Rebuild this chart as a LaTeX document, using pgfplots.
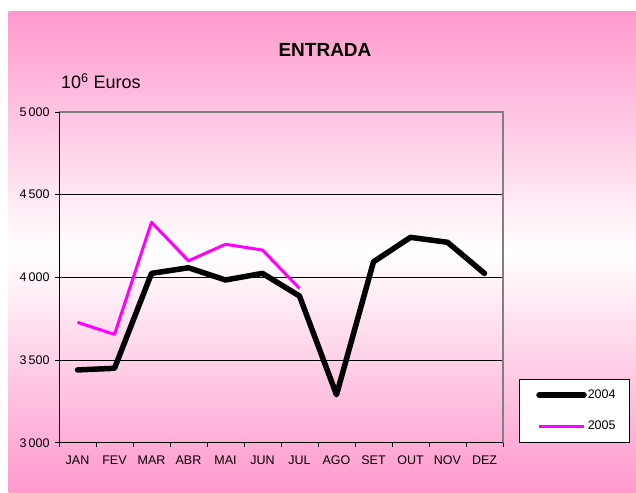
\documentclass[border=0pt]{standalone}
\usepackage{pgfplots}
\pgfplotsset{compat=1.18}
\usepackage{fontspec}
\setmainfont{Liberation Sans}
\definecolor{bgpink}{RGB}{255,153,204}
\definecolor{mag}{RGB}{255,0,255}
\begin{document}
\begin{tikzpicture}
\useasboundingbox (0pt,0pt) rectangle (636pt,492pt);
\fill[white] (0pt,0pt) rectangle (636pt,492pt);
\shade[top color=bgpink, bottom color=bgpink, middle color=white] (8.5pt,0pt) rectangle (636pt,480pt);
\node[font=\fontsize{19}{22}\selectfont\bfseries] at (325pt,442pt) {ENTRADA};
\node[font=\fontsize{18}{21}\selectfont, anchor=base west, inner sep=0pt] at (61pt,403pt) {10\textsuperscript{6} Euros};
\begin{axis}[
  at={(59pt,49.3pt)}, anchor=south west,
  scale only axis, width=444pt, height=330.7pt,
  xmin=0.5, xmax=12.5, ymin=3000, ymax=5000,
  xtick={0.5,1.5,...,12.5},
  xticklabels={JAN,FEV,MAR,ABR,MAI,JUN,JUL,AGO,SET,OUT,NOV,DEZ},
  x tick label as interval,
  ytick={3000,3500,...,5000},
  ymajorgrids, grid style={black, line width=0.9pt},
  tick align=outside, xtick pos=bottom, ytick pos=left,
  major tick length=4pt,
  tick style={black, line width=0.8pt},
  axis line style={draw=none},
  ticklabel style={font=\fontsize{12.5}{14}\selectfont},
  xticklabel style={yshift=-6pt},
  yticklabel style={xshift=-2pt},
  /pgf/number format/assume math mode=true,
  /pgf/number format/1000 sep={\,},
  clip=false,
  legend image code/.code={\path (0pt,0pt); \draw[#1] (4pt,0pt) -- (49pt,0pt);},
  legend style={at={(1.036,0)}, anchor=south west, draw=black, fill=white,
    line width=0.6pt, font=\fontsize{12.5}{14}\selectfont,
    inner xsep=13pt, inner ysep=10pt, row sep=19pt,
    nodes={inner sep=1pt}},
  legend cell align=left,
]
\addplot[black, line width=5.5pt, line join=round, line cap=round] coordinates {
(1,3440) (2,3450) (3,4024) (4,4058) (5,3984) (6,4024) (7,3887) (8,3290) (9,4094) (10,4242) (11,4212) (12,4024)};
\addlegendentry{2004}
\addplot[mag, line width=3pt, line join=round] coordinates {
(1,3728) (2,3655) (3,4333) (4,4100) (5,4200) (6,4165) (7,3933)};
\addlegendentry{2005}
\draw[gray, line width=1.2pt] (rel axis cs:0,1) -- (rel axis cs:1,1) -- (rel axis cs:1,0);
\draw[black, line width=1pt] (rel axis cs:0,1) -- (rel axis cs:0,0) -- (rel axis cs:1,0);
\end{axis}
\end{tikzpicture}
\end{document}
